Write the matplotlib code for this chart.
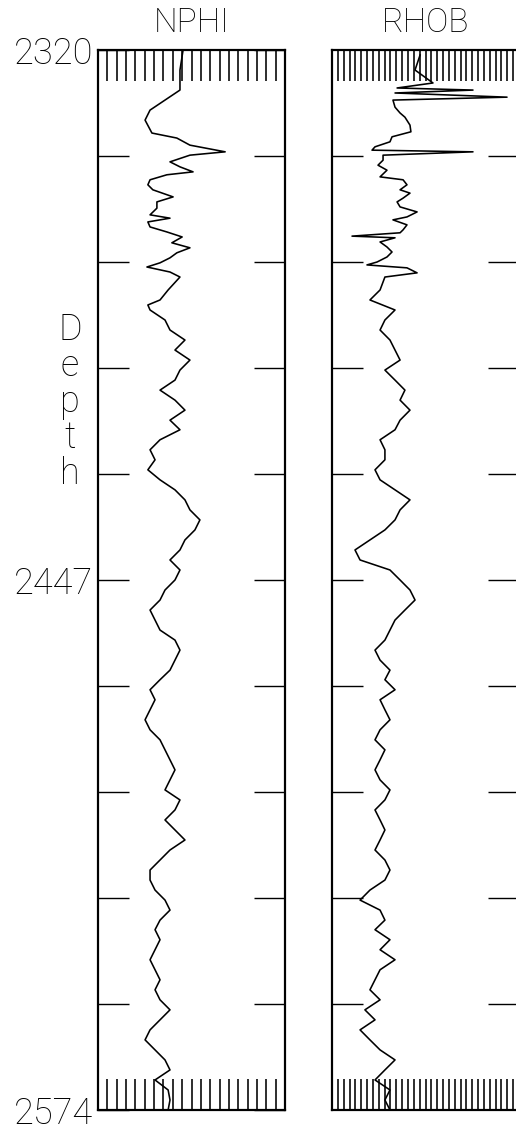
#!/usr/bin/env python3
"""Porosity / density log tracks (NPHI, RHOB) versus depth."""

import matplotlib
matplotlib.use("Agg")
import matplotlib.pyplot as plt
import numpy as np
from matplotlib.ticker import FixedLocator, FixedFormatter

plt.rcParams["font.family"] = ["Roboto", "DejaVu Sans"]

TOP_DEPTH = 2320.0
BASE_DEPTH = 2574.0
DEPTH_LABELS = ["2320", "", "", "", "", "2447", "", "", "", "", "2574"]

# neutron porosity (v/v)
nphi_depth = [
    2320.0, 2324.8, 2329.6, 2332.0, 2334.4, 2336.8, 2339.9, 2341.1, 2342.8, 2344.4,
    2345.2, 2346.8, 2348.0, 2349.2, 2349.9, 2351.1, 2352.3, 2353.5, 2355.2, 2356.4,
    2357.9, 2359.5, 2360.3, 2361.2, 2362.4, 2363.6, 2364.8, 2366.2, 2367.4, 2368.6,
    2369.8, 2371.0, 2372.0, 2373.2, 2374.4, 2377.5, 2379.9, 2381.1, 2382.3, 2384.7,
    2387.1, 2389.5, 2391.9, 2394.3, 2396.7, 2399.1, 2401.5, 2403.9, 2406.3, 2408.7,
    2411.0, 2413.4, 2415.8, 2418.2, 2420.6, 2423.0, 2425.4, 2427.8, 2430.2, 2432.6,
    2435.0, 2437.4, 2439.8, 2442.2, 2444.6, 2447.0, 2449.4, 2451.8, 2454.2, 2456.6,
    2459.0, 2461.4, 2463.8, 2466.2, 2468.6, 2470.9, 2473.3, 2475.7, 2478.1, 2480.5,
    2482.9, 2485.3, 2487.7, 2490.1, 2492.5, 2494.9, 2497.3, 2499.7, 2502.1, 2504.5,
    2506.9, 2509.3, 2511.7, 2514.1, 2516.5, 2518.9, 2521.3, 2523.7, 2526.1, 2528.5,
    2530.8, 2533.2, 2535.6, 2538.0, 2540.4, 2542.8, 2545.2, 2547.6, 2550.0, 2552.4,
    2554.8, 2557.2, 2559.6, 2562.0, 2564.4, 2566.8, 2569.2, 2571.6, 2574.0,
]
nphi = [
    0.177, 0.187, 0.187, 0.235, 0.283, 0.299, 0.277, 0.197, 0.155, 0.042,
    0.155, 0.219, 0.187, 0.145, 0.229, 0.283, 0.290, 0.274, 0.209, 0.261,
    0.261, 0.283, 0.219, 0.290, 0.283, 0.229, 0.180, 0.213, 0.155, 0.197,
    0.219, 0.251, 0.293, 0.219, 0.187, 0.225, 0.251, 0.290, 0.283, 0.235,
    0.219, 0.171, 0.203, 0.155, 0.187, 0.203, 0.251, 0.203, 0.171, 0.219,
    0.187, 0.251, 0.283, 0.267, 0.290, 0.251, 0.203, 0.171, 0.155, 0.123,
    0.139, 0.171, 0.187, 0.219, 0.187, 0.203, 0.235, 0.251, 0.283, 0.267,
    0.251, 0.203, 0.187, 0.203, 0.219, 0.251, 0.283, 0.267, 0.283, 0.299,
    0.283, 0.251, 0.235, 0.219, 0.203, 0.219, 0.235, 0.187, 0.203, 0.235,
    0.203, 0.171, 0.219, 0.251, 0.283, 0.283, 0.267, 0.235, 0.219, 0.251,
    0.267, 0.251, 0.267, 0.283, 0.267, 0.251, 0.267, 0.251, 0.219, 0.251,
    0.283, 0.299, 0.267, 0.235, 0.219, 0.267, 0.225, 0.219, 0.225,
]

# bulk density (g/cc)
rhob_depth = [
    2321.2, 2324.8, 2327.9, 2329.1, 2329.6, 2330.3, 2331.3, 2332.0, 2333.7, 2335.1,
    2336.1, 2338.0, 2339.6, 2340.8, 2342.0, 2343.2, 2344.0, 2344.4, 2345.2, 2346.4,
    2347.6, 2348.8, 2350.4, 2351.1, 2352.3, 2353.5, 2354.3, 2355.5, 2356.4, 2357.6,
    2358.8, 2360.0, 2360.7, 2361.9, 2363.1, 2363.8, 2364.6, 2365.0, 2366.0, 2367.2,
    2368.4, 2369.6, 2370.8, 2371.5, 2372.2, 2373.4, 2374.4, 2377.5, 2379.9, 2382.3,
    2384.7, 2387.1, 2389.5, 2391.9, 2394.3, 2396.7, 2399.1, 2401.5, 2403.9, 2406.3,
    2408.7, 2411.0, 2413.4, 2415.8, 2418.2, 2420.6, 2423.0, 2425.4, 2427.8, 2430.2,
    2432.6, 2435.0, 2437.4, 2439.8, 2442.2, 2444.6, 2447.0, 2449.4, 2451.8, 2454.2,
    2456.6, 2459.0, 2461.4, 2463.8, 2466.2, 2468.6, 2470.9, 2473.3, 2475.7, 2478.1,
    2480.5, 2482.9, 2485.3, 2487.7, 2490.1, 2492.5, 2494.9, 2497.3, 2499.7, 2502.1,
    2504.5, 2506.9, 2509.3, 2511.7, 2514.1, 2516.5, 2518.9, 2521.3, 2523.7, 2526.1,
    2528.5, 2530.8, 2533.2, 2535.6, 2538.0, 2540.4, 2542.8, 2545.2, 2547.6, 2550.0,
    2552.4, 2554.8, 2557.2, 2559.6, 2562.0, 2564.4, 2566.8, 2569.2, 2571.6, 2574.0,
]
rhob = [
    2.421, 2.394, 2.490, 2.298, 2.704, 2.287, 2.886, 2.276, 2.287, 2.314,
    2.340, 2.367, 2.372, 2.271, 2.260, 2.180, 2.164, 2.704, 2.223, 2.223,
    2.196, 2.244, 2.207, 2.330, 2.351, 2.314, 2.367, 2.330, 2.298, 2.314,
    2.405, 2.351, 2.276, 2.351, 2.330, 2.314, 2.057, 2.287, 2.207, 2.244,
    2.271, 2.244, 2.191, 2.137, 2.351, 2.405, 2.233, 2.207, 2.153, 2.287,
    2.233, 2.207, 2.260, 2.287, 2.314, 2.233, 2.287, 2.340, 2.314, 2.367,
    2.314, 2.287, 2.207, 2.233, 2.233, 2.180, 2.207, 2.287, 2.367, 2.314,
    2.287, 2.233, 2.153, 2.073, 2.100, 2.260, 2.314, 2.367, 2.394, 2.340,
    2.287, 2.260, 2.233, 2.180, 2.207, 2.260, 2.233, 2.287, 2.207, 2.233,
    2.260, 2.207, 2.180, 2.233, 2.207, 2.180, 2.207, 2.260, 2.233, 2.180,
    2.207, 2.233, 2.207, 2.180, 2.233, 2.260, 2.233, 2.153, 2.100, 2.207,
    2.233, 2.180, 2.260, 2.207, 2.287, 2.207, 2.180, 2.153, 2.207, 2.126,
    2.180, 2.100, 2.153, 2.207, 2.287, 2.233, 2.180, 2.260, 2.233, 2.260,
]

W, H, DPI = 516, 1136, 100
TICK_PX = 31


def px(v):
    """Pixels to points."""
    return v * 72.0 / DPI


def make_track(fig, left, right, title, xlim, n_div):
    ax = fig.add_axes([left / W, 1 - 1110 / H, (right - left) / W, 1060 / H])
    ax.set_xlim(*xlim)
    ax.set_ylim(BASE_DEPTH, TOP_DEPTH)
    for sp in ax.spines.values():
        sp.set_linewidth(px(2.2))
    ax.xaxis.set_major_locator(FixedLocator(np.linspace(xlim[0], xlim[1], n_div + 1)[1:-1]))
    ax.set_xticklabels([])
    ax.tick_params(axis="x", direction="in", top=True, bottom=True,
                   length=px(TICK_PX), width=px(1.6))
    ax.yaxis.set_major_locator(FixedLocator(np.linspace(TOP_DEPTH, BASE_DEPTH, 11)[1:-1]))
    ax.tick_params(axis="y", direction="in", left=True, right=True,
                   length=px(TICK_PX), width=px(1.4), labelleft=False)
    ax.set_title(title, fontsize=24, fontweight="light", pad=px(18))
    return ax


fig = plt.figure(figsize=(W / DPI, H / DPI), dpi=DPI)

ax_n = make_track(fig, 98, 285, "NPHI", (0.45, -0.15), 20)
ax_n.plot(nphi, nphi_depth, color="black", lw=px(1.6), clip_on=True)

# depth labels on the left of the first track
ax_n.yaxis.set_major_locator(FixedLocator(np.linspace(TOP_DEPTH, BASE_DEPTH, 11)))
ax_n.yaxis.set_major_formatter(FixedFormatter(DEPTH_LABELS))
ax_n.tick_params(axis="y", labelleft=True, labelsize=26, pad=px(5))
for lbl in ax_n.get_yticklabels():
    lbl.set_fontweight("light")
fig.text(70 / W, 1 - 312 / H, "D\ne\np\nt\nh", ha="center", va="top",
         fontsize=26, fontweight="light", linespacing=1.0)

ax_r = make_track(fig, 332, 519, "RHOB", (1.95, 2.95), 32)
ax_r.plot(rhob, rhob_depth, color="black", lw=px(1.6), clip_on=True)

fig.savefig("out.png", dpi=DPI)
